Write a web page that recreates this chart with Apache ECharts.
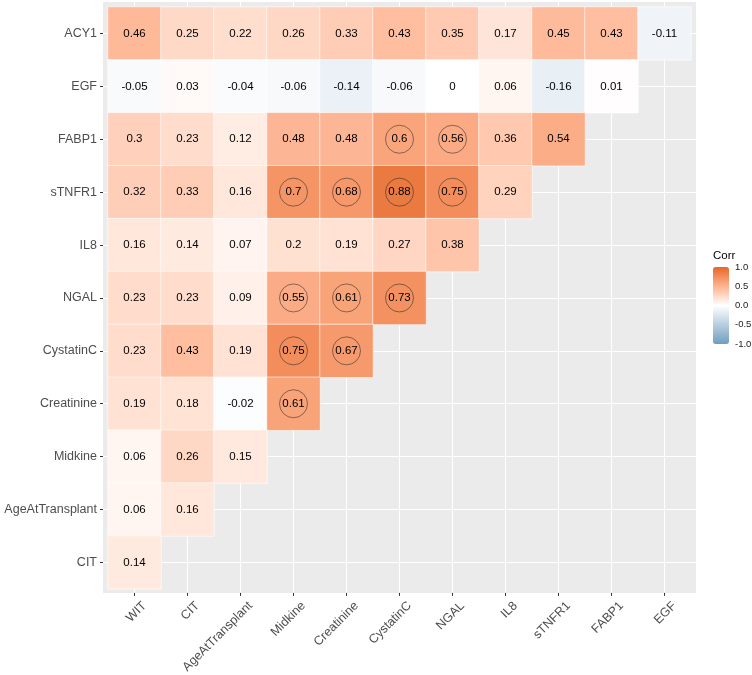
<!DOCTYPE html>
<html>
<head>
<meta charset="utf-8">
<script src="https://cdn.jsdelivr.net/npm/echarts@6/dist/echarts.min.js"></script>
<style>
html,body{margin:0;padding:0;background:#fff;}
#chart{width:752px;height:675px;}
</style>
</head>
<body>
<div id="chart"></div>
<script>
// ---- Data ----
const xLabels = ['WIT','CIT','AgeAtTransplant','Midkine','Creatinine','CystatinC','NGAL','IL8','sTNFR1','FABP1','EGF'];
const yLabels = ['ACY1','EGF','FABP1','sTNFR1','IL8','NGAL','CystatinC','Creatinine','Midkine','AgeAtTransplant','CIT'];

const ACY1 = [0.46, 0.25, 0.22, 0.26, 0.33, 0.43, 0.35, 0.17, 0.45, 0.43, -0.11];
const EGF = [-0.05, 0.03, -0.04, -0.06, -0.14, -0.06, 0, 0.06, -0.16, 0.01];
const FABP1 = [0.3, 0.23, 0.12, 0.48, 0.48, 0.6, 0.56, 0.36, 0.54];
const sTNFR1 = [0.32, 0.33, 0.16, 0.7, 0.68, 0.88, 0.75, 0.29];
const IL8 = [0.16, 0.14, 0.07, 0.2, 0.19, 0.27, 0.38];
const NGAL = [0.23, 0.23, 0.09, 0.55, 0.61, 0.73];
const CystatinC = [0.23, 0.43, 0.19, 0.75, 0.67];
const Creatinine = [0.19, 0.18, -0.02, 0.61];
const Midkine = [0.06, 0.26, 0.15];
const AgeAtTransplant = [0.06, 0.16];
const CIT = [0.14];

const rows = [ACY1, EGF, FABP1, sTNFR1, IL8, NGAL, CystatinC, Creatinine, Midkine, AgeAtTransplant, CIT];
const circleMin = 0.55;   // cells marked with a circle
const legendTicks = [-1, -0.5, 0, 0.5, 1];

// ---- Colour scale (interpolated in CIELAB like ggplot2) ----
const lowCol = '#6D9EC1', midCol = '#FFFFFF', highCol = '#E46726';
function hex2rgb(h){h=h.replace('#','');return [0,2,4].map(i=>parseInt(h.substr(i,2),16));}
function s2l(c){c/=255;return c<=0.04045?c/12.92:Math.pow((c+0.055)/1.055,2.4);}
function l2s(c){c=c<=0.0031308?12.92*c:1.055*Math.pow(c,1/2.4)-0.055;return Math.round(Math.max(0,Math.min(1,c))*255);}
const Xn=0.95047,Yn=1,Zn=1.08883;
function f(t){return t>0.008856?Math.cbrt(t):7.787*t+16/116;}
function fi(t){return t>0.206893?t*t*t:(t-16/116)/7.787;}
function rgb2lab(rgb){
  const [r,g,b]=rgb.map(s2l);
  const X=0.4124564*r+0.3575761*g+0.1804375*b;
  const Y=0.2126729*r+0.7151522*g+0.0721750*b;
  const Z=0.0193339*r+0.1191920*g+0.9503041*b;
  const fx=f(X/Xn),fy=f(Y/Yn),fz=f(Z/Zn);
  return [116*fy-16,500*(fx-fy),200*(fy-fz)];
}
function lab2hex(lab){
  const fy=(lab[0]+16)/116,fx=fy+lab[1]/500,fz=fy-lab[2]/200;
  const X=fi(fx)*Xn,Y=fi(fy)*Yn,Z=fi(fz)*Zn;
  const r=3.2404542*X-1.5371385*Y-0.4985314*Z;
  const g=-0.9692660*X+1.8760108*Y+0.0415560*Z;
  const b=0.0556434*X-0.2040259*Y+1.0572252*Z;
  return '#'+[r,g,b].map(l2s).map(v=>v.toString(16).padStart(2,'0')).join('');
}
function mixLab(a,b,t){const A=rgb2lab(hex2rgb(a)),B=rgb2lab(hex2rgb(b));return lab2hex(A.map((v,i)=>v+(B[i]-v)*t));}
const colorStops=[];
for(let i=0;i<=40;i++){
  const v=-1+i*0.05;
  colorStops.push(v<0?mixLab(lowCol,midCol,v+1):mixLab(midCol,highCol,v));
}

// ---- Build series data ----
const heatData=[], circleData=[];
rows.forEach((row,yi)=>{
  row.forEach((v,xi)=>{
    heatData.push([xi,yi,v]);
    if(Math.abs(v)>=circleMin) circleData.push([xi,yi]);
  });
});

// ---- Layout ----
const FONT="'Liberation Sans', Arial, Helvetica, sans-serif";
const cell=53, tileLeft=108, tileTop=7, nX=xLabels.length, nY=yLabels.length;
const tileW=cell*nX, tileH=52.9*nY;
const pad=5;
const panel={left:tileLeft-pad, top:tileTop-pad, width:tileW+2*pad, height:tileH+pad+4};
const cellH=tileH/nY;
const legend={left:713, top:267, width:16, height:77};
const G={outerBoundsMode:'none',containLabel:false,show:false};

const chart=echarts.init(document.getElementById('chart'),null,{renderer:'canvas'});
const option={
  animation:false,
  backgroundColor:'#ffffff',
  textStyle:{fontFamily:FONT},
  title:{text:'Corr',left:legend.left,top:250,padding:0,textStyle:{fontSize:11.5,fontWeight:'normal',color:'#000',fontFamily:FONT}},
  grid:[
    Object.assign({},G,{left:panel.left,top:panel.top,width:panel.width,height:panel.height,show:true,backgroundColor:'#EBEBEB',borderWidth:0,z:-1}),
    Object.assign({},G,{left:tileLeft,top:tileTop,width:tileW,height:tileH}),
    Object.assign({},G,{left:tileLeft+cell/2,top:panel.top,width:tileW-cell,height:panel.height}),
    Object.assign({},G,{left:panel.left,top:tileTop+cellH/2,width:panel.width,height:tileH-cellH}),
    Object.assign({},G,{left:legend.left,top:legend.top,width:legend.width,height:legend.height})
  ],
  xAxis:[
    {gridIndex:0,type:'value',show:false},
    {gridIndex:1,type:'category',data:xLabels,offset:4,
      axisLine:{show:false},
      axisTick:{show:true,alignWithLabel:true,length:3,lineStyle:{color:'#333',width:1}},
      axisLabel:{interval:0,rotate:45,margin:1,verticalAlign:'top',lineHeight:28,fontSize:12.5,color:'#4D4D4D',fontFamily:FONT},
      splitLine:{show:false}},
    {gridIndex:2,type:'category',data:xLabels,boundaryGap:false,
      axisLine:{show:false},axisTick:{show:false},axisLabel:{show:false},
      splitLine:{show:true,interval:0,lineStyle:{color:'#FFFFFF',width:1.1}}},
    {gridIndex:3,type:'value',show:false},
    {gridIndex:4,type:'value',show:false}
  ],
  yAxis:[
    {gridIndex:0,type:'value',show:false},
    {gridIndex:1,type:'category',data:yLabels,inverse:true,offset:5,
      axisLine:{show:false},
      axisTick:{show:true,alignWithLabel:true,length:3,lineStyle:{color:'#333',width:1}},
      axisLabel:{interval:0,margin:6,fontSize:12.5,color:'#4D4D4D',fontFamily:FONT},
      splitLine:{show:false}},
    {gridIndex:2,type:'value',show:false},
    {gridIndex:3,type:'category',data:yLabels,inverse:true,boundaryGap:false,
      axisLine:{show:false},axisTick:{show:false},axisLabel:{show:false},
      splitLine:{show:true,interval:0,lineStyle:{color:'#FFFFFF',width:1.1}}},
    {gridIndex:4,type:'value',min:legendTicks[0],max:legendTicks[legendTicks.length-1],interval:0.5,position:'right',
      axisLine:{show:false},axisTick:{show:false},splitLine:{show:false},
      axisLabel:{margin:6,fontSize:9.5,color:'#1A1A1A',fontFamily:FONT,formatter:v=>v.toFixed(1)}}
  ],
  visualMap:{
    type:'continuous',min:-1,max:1,seriesIndex:0,calculable:false,
    left:legend.left,top:legend.top,itemWidth:legend.width,itemHeight:legend.height,padding:0,
    inRange:{color:colorStops},text:null,showLabel:false,hoverLink:false
  },
  series:[
    {type:'heatmap',xAxisIndex:1,yAxisIndex:1,data:heatData,
      itemStyle:{borderColor:'#FFFFFF',borderWidth:0.6},
      label:{show:true,formatter:p=>String(p.value[2]),fontSize:11.5,color:'#000',fontFamily:FONT},
      emphasis:{disabled:true},silent:true},
    {type:'scatter',xAxisIndex:1,yAxisIndex:1,data:circleData,symbol:'circle',symbolSize:28,z:5,
      itemStyle:{color:'rgba(0,0,0,0)',borderColor:'#2b2b2b',borderWidth:0.7},
      emphasis:{disabled:true},silent:true}
  ]
};
chart.setOption(option);
</script>
</body>
</html>
